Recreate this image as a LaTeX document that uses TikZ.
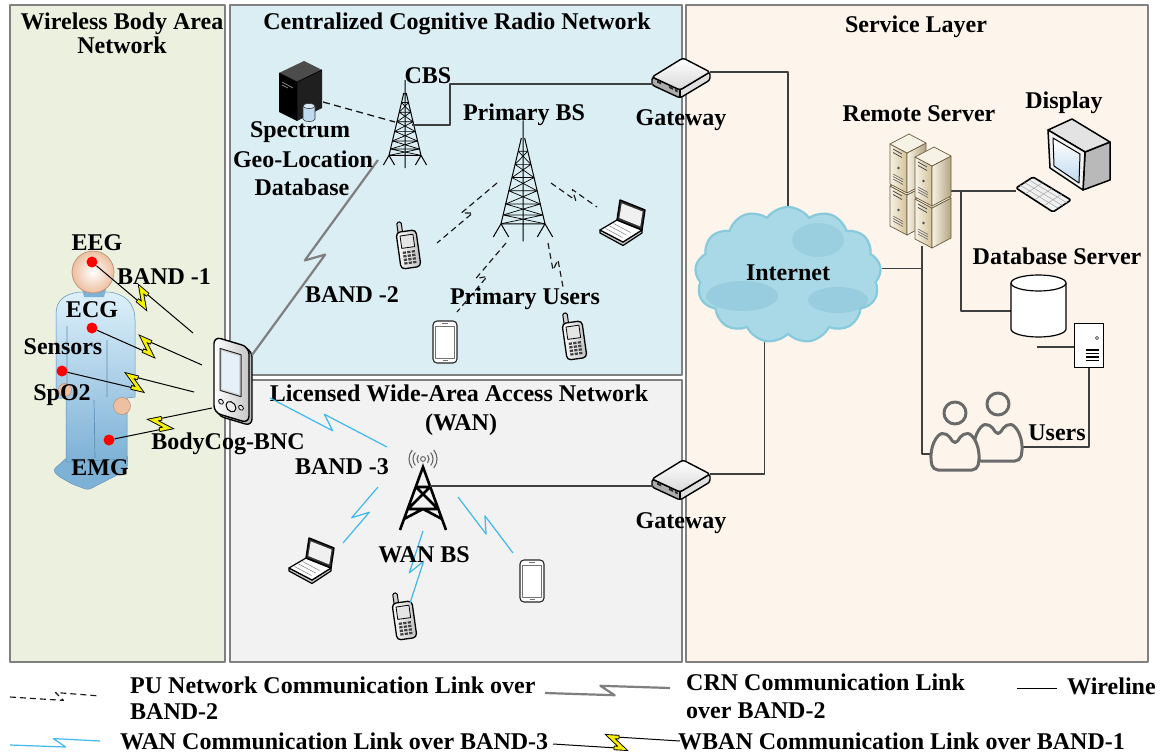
\documentclass[tikz,border=0pt]{standalone}
\usepackage{fontspec}
\setmainfont{Liberation Serif}
\usetikzlibrary{calc,shapes.symbols}

\definecolor{wbanbg}{HTML}{EBF1DE}
\definecolor{crnbg}{HTML}{DAEEF3}
\definecolor{wanbg}{HTML}{F2F2F2}
\definecolor{svcbg}{HTML}{FDF4EC}
\definecolor{panelline}{HTML}{808080}
\definecolor{wanblue}{HTML}{3DB9EE}
\definecolor{boltyellow}{HTML}{F5F000}
\definecolor{crngray}{HTML}{7F7F7F}
\definecolor{wirecol}{HTML}{3F3F3F}
\definecolor{cloudfill}{HTML}{A9D9E7}
\definecolor{cloudedge}{HTML}{86CADC}
\definecolor{cloudpatch}{HTML}{8CC6DA}
\definecolor{skin}{HTML}{EEBFA0}
\definecolor{skinline}{HTML}{B88C70}
\definecolor{suitlight}{HTML}{DDF0FA}
\definecolor{suitdark}{HTML}{7DB1D6}
\definecolor{suitline}{HTML}{5B8FB8}
\definecolor{beige}{HTML}{D3C298}
\definecolor{beigelight}{HTML}{F7F2E6}
\definecolor{beigeline}{HTML}{6B5B3E}
\definecolor{screenblue}{HTML}{BFD9EF}
\definecolor{usergray}{HTML}{6A6A6A}

% radio link with a zigzag: style, from, to, position, half step along, half step across
\newcommand{\zlink}[6]{%
  \coordinate (zm) at ($(#2)!#4!(#3)$);
  \coordinate (z1) at ($(zm)!#5!(#3)!#6!-90:(#3)$);
  \coordinate (z2) at ($(zm)!-#5!(#3)!#6!90:(#3)$);
  \draw[#1] (#2) -- (z1) -- (z2) -- (#3);
}
% body-area link: black line with a yellow bolt
\newcommand{\wbanlink}[3]{%
  \zlink{black,line width=1pt}{#1}{#2}{#3}{6pt}{6pt}
  \draw[black,line width=4.6pt,line join=miter,miter limit=3]
    ($(z1)!9pt!(#1)$) -- (z1) -- (z2) -- ($(z2)!9pt!(#2)$);
  \draw[boltyellow,line width=2.8pt,line join=miter,miter limit=3]
    ($(z1)!8.2pt!(#1)$) -- (z1) -- (z2) -- ($(z2)!8.2pt!(#2)$);
}
% user silhouette, head centre given
\newcommand{\userfig}[2]{%
  \draw[usergray,line width=3pt,fill=svcbg,rounded corners=5pt]
    (#1-22,#2+57) .. controls (#1-27,#2+35) and (#1-18,#2+21) .. (#1-8,#2+20)
    -- (#1,#2+32) -- (#1+8,#2+20)
    .. controls (#1+18,#2+21) and (#1+27,#2+35) .. (#1+22,#2+57) -- cycle;
  \draw[usergray,line width=3pt,fill=svcbg] (#1,#2) circle (11);
}

\tikzset{
  lbl/.style={font=\fontsize{24}{26}\selectfont\bfseries,inner sep=0pt,
              text height=0.72em,text depth=0.2em,yshift=-5pt},
  panel/.style={draw=panelline,line width=1.6pt},
  wire/.style={draw=wirecol,line width=1.1pt},
  sensor/.style={circle,fill=red,inner sep=0pt,minimum size=11pt},
  pulink/.style={black!90,line width=1.15pt,dash pattern=on 6pt off 4pt},
  wanlink/.style={wanblue,line width=1.2pt},
  crnlink/.style={crngray,line width=2.2pt},
  lattice/.pic={
    \draw[black,line width=1pt]
      (0,-6) -- (0,104)
      (-1.5,10) -- (-20,88) -- (-27,100)
      (1.5,10) -- (20,88) -- (27,100)
      (-20,88) -- (-13,100) (20,88) -- (13,100)
      (-20,88) -- (20,88);
    \foreach \ya/\yb in {22/34,34/46,46/58,58/70,70/80,80/88}{
      \pgfmathsetmacro\wa{1.5+(\ya-10)*18.5/78}
      \pgfmathsetmacro\wb{1.5+(\yb-10)*18.5/78}
      \draw[black,line width=0.7pt] (-\wa,\ya) -- (\wa,\ya)
        (-\wa,\ya) -- (\wb,\yb) (\wa,\ya) -- (-\wb,\yb);
    }
  },
  wantower/.pic={
    \draw[black,line width=2.6pt,line join=miter,line cap=butt]
      (-23,63) -- (0,0) -- (23,63)
      (-7,20) -- (7,20)
      (-7,20) -- (15,42) (7,20) -- (-15,42)
      (-15,42) -- (15,42)
      (-19,52) -- (0,42) -- (19,52);
    \draw[black!60,line width=1pt] (0,-8) circle (2.4);
    \foreach \r in {6,10,14}{
      \draw[black!60,line width=1.1pt] (0,-8) ++(140:\r) arc (140:220:\r);
      \draw[black!60,line width=1.1pt] (0,-8) ++(-40:\r) arc (-40:40:\r);
    }
  },
  gateway/.pic={
    \fill[gray!65] (-29,-1) -- (-1,12) -- (-1,20) -- (-29,7) -- cycle;
    \fill[gray!25] (-1,12) -- (29,-6) -- (29,2) -- (-1,20) -- cycle;
    \draw[black,line width=1.4pt,rounded corners=2.5pt]
      (-29,-1) -- (-1,12) -- (29,-6) -- (29,2) -- (-1,20) -- (-29,7) -- cycle;
    \draw[black,line width=1.2pt] (-1,12) -- (-1,20);
    \draw[black,line width=1.4pt,rounded corners=2.5pt,top color=white,bottom color=gray!30]
      (-29,-1) -- (2,-20) -- (29,-6) -- (-1,12) -- cycle;
    \fill[black!85] (-24,2.5) -- (-20,4.5) -- (-20,6.5) -- (-24,4.5) -- cycle;
    \fill[black!85] (-12,8) -- (-8,10) -- (-8,12) -- (-12,10) -- cycle;
    \fill[black!85] (-6,11) -- (-3.5,12.3) -- (-3.5,14.3) -- (-6,13) -- cycle;
  },
  cellphone/.pic={
    \draw[black,line width=1pt,fill=gray!35,rounded corners=1.5pt] (-8,-25) rectangle (-3.5,-13);
    \draw[black,line width=1.3pt,rounded corners=4pt,left color=white,right color=gray!50]
      (-10,-15) rectangle (10,22);
    \draw[black,line width=0.8pt,fill=gray!20] (-6.5,-11) rectangle (6.5,1.5);
    \foreach \i in {-1,0,1}{\foreach \j in {0,1,2,3}{
      \fill[black!75] ({\i*4.5-1.6},{5+\j*3.6}) rectangle ++(3.2,2.2);}}
  },
  smartphone/.pic={
    \draw[black!85,line width=1.1pt,rounded corners=4pt,fill=white] (-12,-21) rectangle (12,21);
    \draw[black!55,line width=0.7pt,fill=white] (-9.5,-16) rectangle (9.5,16);
    \draw[black!55,line width=0.9pt] (-3,-18.5) -- (3,-18.5) (-2.5,18.5) -- (2.5,18.5);
  },
  laptop/.pic={
    \draw[black,line width=1.2pt,fill=gray!45]
      (-24,10) -- (-1,22) -- (18,10) -- (18,13) -- (-1,25.5) -- (-24,13) -- cycle;
    \draw[black,line width=1.2pt,fill=white] (-7,0) -- (18,10) -- (-1,22) -- (-24,10) -- cycle;
    \draw[gray,line width=0.5pt] (-10.5,3.5) -- ++(17,9) (-14.5,6) -- ++(17,9) (-18.5,8.5) -- ++(17,9);
    \draw[black,line width=1.4pt,fill=black!80] (-7,0) -- (-4,-20) -- (21,-10) -- (18,10) -- cycle;
    \fill[gray!12] (-4.6,-2) -- (-2.3,-16.6) -- (18.6,-8.4) -- (16.2,6.4) -- cycle;
  },
  pda/.pic={
    \begin{scope}[yslant=-0.3]
      \draw[black,line width=1.3pt,rounded corners=7pt,fill=gray!55] (-15,-36) rectangle (20,40);
      \draw[black,line width=1.4pt,rounded corners=7pt,left color=white,right color=gray!45]
        (-18,-38) rectangle (17,38);
      \draw[black!85,line width=1pt,fill=gray!35] (-12,-28) rectangle (9,14);
      \fill[screenblue!40!white] (-10,-26) rectangle (7,12);
      \draw[black,line width=1pt,fill=gray!15] (-1,27) circle (5);
      \draw[black,line width=0.8pt,fill=gray!15] (-11,25) circle (2.4) (9,25) circle (2.4);
    \end{scope}
  },
  srvunit/.pic={
    \draw[beigeline,line width=0.7pt,left color=beigelight,right color=beige]
      (0,0) -- (17,9) -- (17,49) -- (0,40) -- cycle;
    \draw[beigeline,line width=0.7pt,left color=beigelight,right color=beige!85!black]
      (17,9) -- (36,-1) -- (36,39) -- (17,49) -- cycle;
    \draw[beigeline,line width=0.7pt,fill=beigelight] (0,0) -- (19,-10) -- (36,-1) -- (17,9) -- cycle;
    \draw[black!70,line width=0.8pt] (3,5) -- (12,10) (3,8.5) -- (12,13.5);
    \fill[black!70] (8.5,24) circle (1.3);
    \draw[black!60,line width=0.6pt] (3,30) -- (13,35.5) (3,32.5) -- (13,38) (3,35) -- (13,40.5);
  },
}

\begin{document}
\begin{tikzpicture}[x=1pt,y=-1pt,line join=round]
\useasboundingbox (0,0) rectangle (1167,754);
\fill[white] (0,0) rectangle (1167,754);

% ---------- panels ----------
\draw[panel,fill=wbanbg] (10,5) rectangle (225,662);
\draw[panel,fill=crnbg] (230,5) rectangle (682,375);
\draw[panel,fill=wanbg] (230,380) rectangle (682,662);
\draw[panel,fill=svcbg] (686,5) rectangle (1148,662);

\node[lbl] (t-wban1) at (122,22) {Wireless Body Area};
\node[lbl] (t-wban2) at (122,46) {Network};
\node[lbl] (t-crn) at (457,22) {Centralized Cognitive Radio Network};
\node[lbl] (t-svc) at (916,25) {Service Layer};
\node[lbl] (t-wan1) at (459,394) {Licensed Wide-Area Access Network};
\node[lbl] (t-wan2) at (461,423) {(WAN)};

% ---------- body area network: the patient ----------
\draw[suitline,line width=0.4pt,fill=suitdark,rounded corners=3pt]
  (53,470) -- (70,455) -- (128,455) -- (127,470) -- (88,490) -- (72,484) -- (58,476) -- cycle;
\draw[suitline,line width=0.5pt,top color=suitlight,bottom color=suitdark]
  (56,398) -- (56,314) .. controls (56,300) and (65,294) .. (79,292) -- (109,292)
  .. controls (125,294) and (135,303) .. (135,320) -- (135,397) -- (127,398)
  -- (127,459) -- (66,462) -- (66,398) -- cycle;
\draw[suitline,line width=0.7pt] (67,326) -- (67,396) (107,340) -- (107,397) (94,400) -- (95,458);
\fill[suitdark] (82,289) -- (106,289) -- (104,297) -- (84,297) -- cycle;
\draw[skinline,line width=0.5pt,fill=skin] (122,406) circle (8.5);
\draw[skinline,line width=0.5pt,fill=skin] (65,390) circle (6.5);
\shade[inner color=white,outer color=skin] (93,272) circle (21);
\draw[skinline,line width=0.6pt] (93,272) circle (21);

\node[sensor] (eeg) at (92,262) {};
\node[sensor] (ecg) at (92,328) {};
\node[sensor] (spo2) at (62,371) {};
\node[sensor] (emg) at (109,440) {};

% BodyCog-BNC handheld
\pic (bnc) at (232,380) {pda};
\coordinate (bnc-a) at (193,333);
\coordinate (bnc-b) at (202,365);
\coordinate (bnc-c) at (194,392);
\coordinate (bnc-d) at (212,408);
\coordinate (bnc-top) at (252,355);
\coordinate (bnc-wan) at (270,398);

\wbanlink{eeg}{bnc-a}{0.5}
\wbanlink{ecg}{bnc-b}{0.5}
\wbanlink{spo2}{bnc-c}{0.55}
\wbanlink{emg}{bnc-d}{0.5}

\node[lbl] (t-eeg) at (97,243) {EEG};
\node[lbl] (t-band1) at (164,277) {BAND -1};
\node[lbl] (t-ecg) at (92,310) {ECG};
\node[lbl] (t-sens) at (63,347) {Sensors};
\node[lbl] (t-spo2) at (62,393) {SpO2};
\node[lbl] (t-emg) at (100,468) {EMG};
\node[lbl] (t-bnc) at (228,442) {BodyCog-BNC};

% ---------- cognitive radio network ----------
% spectrum database server
\fill[black] (279,73) -- (297,82) -- (297,121) -- (279,112) -- cycle;
\fill[black!88] (297,82) -- (322,70) -- (322,108) -- (297,121) -- cycle;
\fill[black!70] (279,73) -- (304,61) -- (322,70) -- (297,82) -- cycle;
\draw[black,line width=0.8pt] (279,73) -- (297,82) -- (322,70) (297,82) -- (297,121);
\draw[gray!70,line width=0.6pt] (282,82) -- (293,88) (282,85) -- (288,88);
\draw[black!80,line width=0.6pt,fill=screenblue] (303,106) -- (303,119) arc (180:0:6 and 2.5) -- (315,106);
\draw[black!80,line width=0.6pt,fill=screenblue!60!white] (309,106) ellipse (6 and 2.5);
\coordinate (sgdb) at (323,102);

\pic[scale=0.8] (cbs) at (405,85) {lattice};
\coordinate (cbs-db) at (395,122);
\coordinate (cbs-w) at (412,125);
\coordinate (cbs-low) at (378,160);

\pic[scale=1.1] (pbs) at (523,127) {lattice};
\coordinate (pbs-a) at (497,183);
\coordinate (pbs-b) at (551,183);
\coordinate (pbs-c) at (506,243);
\coordinate (pbs-d) at (548,243);

\pic[rotate=8] (pu1) at (408,246) {cellphone};
\pic (pu2) at (624,220) {laptop};
\pic (pu3) at (445,342) {smartphone};
\pic[rotate=8] (pu4) at (574,337) {cellphone};
\coordinate (pu1-p) at (437,243);
\coordinate (pu2-p) at (597,207);
\coordinate (pu3-p) at (457,312);
\coordinate (pu4-p) at (563,287);

\draw[black!90,line width=1.3pt,dash pattern=on 7pt off 4.5pt] (sgdb) -- (cbs-db);
\zlink{pulink}{pbs-a}{pu1-p}{0.5}{4pt}{4pt}
\zlink{pulink}{pbs-b}{pu2-p}{0.5}{4pt}{4pt}
\zlink{pulink}{pbs-c}{pu3-p}{0.5}{4pt}{4pt}
\zlink{pulink}{pbs-d}{pu4-p}{0.5}{4pt}{4pt}

\zlink{crnlink}{bnc-top}{cbs-low}{0.5}{8pt}{7pt}

\node[lbl] (t-cbs) at (428,76) {CBS};
\node[lbl] (t-sg1) at (300,130) {Spectrum};
\node[lbl] (t-sg2) at (303,160) {Geo-Location};
\node[lbl] (t-sg3) at (302,188) {Database};
\node[lbl] (t-pbs) at (524,113) {Primary BS};
\node[lbl] (t-band2) at (352,295) {BAND -2};
\node[lbl] (t-pu) at (525,297) {Primary Users};

% ---------- wide-area network ----------
\pic (wbs) at (423,467) {wantower};
\coordinate (wbs-w) at (430,486);
\coordinate (wbs-a) at (387,447);
\coordinate (wbs-b) at (378,487);
\coordinate (wbs-c) at (423,531);
\coordinate (wbs-d) at (458,497);

\pic (wu1) at (313,558) {laptop};
\pic[rotate=8] (wu2) at (404,617) {cellphone};
\pic (wu3) at (532,581) {smartphone};
\coordinate (wu1-p) at (343,543);
\coordinate (wu2-p) at (410,603);
\coordinate (wu3-p) at (513,553);

\zlink{wanlink}{bnc-wan}{wbs-a}{0.5}{7pt}{6pt}
\zlink{wanlink}{wbs-b}{wu1-p}{0.5}{7pt}{6pt}
\zlink{wanlink}{wbs-c}{wu2-p}{0.5}{7pt}{6pt}
\zlink{wanlink}{wbs-d}{wu3-p}{0.5}{7pt}{6pt}

\node[lbl] (t-band3) at (342,467) {BAND -3};
\node[lbl] (t-wbs) at (424,555) {WAN BS};

% ---------- gateways and service layer ----------
\pic (gw1) at (681,78) {gateway};
\pic (gw2) at (681,480) {gateway};
\coordinate (gw1-l) at (653,84);
\coordinate (gw1-r) at (710,72);
\coordinate (gw2-l) at (653,486);
\coordinate (gw2-r) at (710,474);

\draw[wire] (cbs-w) -- ++(38,0) |- (gw1-l);
\draw[wire] (wbs-w) -- (gw2-l);

\node[cloud,cloud puffs=13,cloud puff arc=110,aspect=1.35,minimum width=186pt,minimum height=136pt,
      draw=cloudedge,line width=2.2pt,fill=cloudfill,inner sep=0pt] (internet) at (788,275) {};
\fill[cloudpatch,opacity=0.6] (742,296) ellipse (36 and 15);
\fill[cloudpatch,opacity=0.6] (838,300) ellipse (30 and 13);
\fill[cloudpatch,opacity=0.5] (818,240) ellipse (26 and 17);

\coordinate (srv-b) at (922,246);
\coordinate (srv-r) at (951,191);
\coordinate (srv-j) at (961,191);
\coordinate (kbd-l) at (1016,191);
\coordinate (db-l) at (1011,311);
\coordinate (box-free) at (1037,347);
\coordinate (box-l) at (1074,347);
\coordinate (box-b) at (1089,367);
\coordinate (users-l) at (933,454);
\coordinate (users-r) at (1023,447);

\draw[wire] (gw1-r) -| (internet.north);
\draw[wire] (gw2-r) -| (internet.251);
\draw[wire] (internet.4) -- (internet.4 -| srv-b);
\draw[wire] (srv-b) |- (users-l);
\draw[wire] (srv-r) -- (kbd-l);
\draw[wire] (srv-j) |- (db-l);
\draw[wire] (box-free) -- (box-l);
\draw[wire] (box-b) |- (users-r);

% remote server rack
\pic (rs1) at (890,186) {srvunit};
\pic (rs2) at (890,144) {srvunit};
\pic (rs3) at (915,199) {srvunit};
\pic (rs4) at (915,157) {srvunit};

% display and keyboard
\draw[black,line width=1.5pt,fill=gray!55] (1085,152) -- (1110,142) -- (1110,180) -- (1083,190) -- cycle;
\draw[black,line width=1.5pt,fill=gray!22] (1048,130) -- (1072,119) -- (1110,142) -- (1085,152) -- cycle;
\draw[black,line width=1.5pt,fill=gray!10] (1048,130) -- (1085,152) -- (1083,190) -- (1050,168) -- cycle;
\draw[black,line width=1pt,top color=white,bottom color=screenblue]
  (1053,138) -- (1080,154) -- (1079,183) -- (1054,166) -- cycle;
\draw[black,line width=1.6pt,fill=gray!12,rounded corners=1.5pt]
  (1016,188) -- (1033,177) -- (1071,200) -- (1053,212) -- cycle;
\draw[gray!70,line width=0.5pt] (1025.5,193.75) -- ++(17,-11) (1035,199.5) -- ++(17,-11) (1044.5,205.25) -- ++(17,-11)
  (1020.25,185.25) -- ++(38,23) (1024.5,182.5) -- ++(38,23) (1028.75,179.75) -- ++(38,23);

% database server
\draw[black,line width=1.2pt,fill=white] (1011,283) -- (1011,329) arc (180:0:27.5 and 8) -- (1066,283);
\draw[black,line width=1.2pt,fill=white] (1038.5,283) ellipse (27.5 and 8);

% small terminal
\draw[black,line width=1pt,fill=white] (1074,323) rectangle (1103,367);
\draw[black!70,line width=0.7pt] (1097,338) circle (1.6);
\draw[black,line width=1.2pt] (1086,350) -- (1099,350) (1086,353.5) -- (1099,353.5)
  (1086,357) -- (1099,357) (1086,360.5) -- (1099,360.5);

% users
\userfig{998}{404}
\userfig{955}{413}

\node[lbl] (t-gw1) at (681,118) {Gateway};
\node[lbl] (t-gw2) at (681,521) {Gateway};
\node[lbl] (t-inet) at (788,273) {Internet};
\node[lbl] (t-rs) at (919,114) {Remote Server};
\node[lbl] (t-disp) at (1064,101) {Display};
\node[lbl] (t-dbs) at (1057,257) {Database Server};
\node[lbl] (t-users) at (1057,433) {Users};

% ---------- legend ----------
\coordinate (lg-pu-a) at (10,697);
\coordinate (lg-pu-b) at (100,696);
\coordinate (lg-wan-a) at (10,745);
\coordinate (lg-wan-b) at (100,741);
\coordinate (lg-crn-a) at (545,693);
\coordinate (lg-crn-b) at (670,688);
\coordinate (lg-wb-a) at (553,744);
\coordinate (lg-wb-b) at (680,741);
\coordinate (lg-wire-a) at (1017,688);
\coordinate (lg-wire-b) at (1057,688);

\zlink{pulink}{lg-pu-a}{lg-pu-b}{0.55}{4pt}{4pt}
\zlink{wanlink}{lg-wan-a}{lg-wan-b}{0.55}{6pt}{4.5pt}
\zlink{crnlink}{lg-crn-a}{lg-crn-b}{0.5}{7pt}{5pt}
\wbanlink{lg-wb-a}{lg-wb-b}{0.5}
\draw[black,line width=1pt] (lg-wire-a) -- (lg-wire-b);

\node[lbl,anchor=west] (l-pu1) at (130,686) {PU Network Communication Link over};
\node[lbl,anchor=west] (l-pu2) at (130,712) {BAND-2};
\node[lbl,anchor=west] (l-wan) at (120,742) {WAN Communication Link over BAND-3};
\node[lbl,anchor=west] (l-crn1) at (686,683) {CRN Communication Link};
\node[lbl,anchor=west] (l-crn2) at (686,711) {over BAND-2};
\node[lbl,anchor=west] (l-wb) at (678,742) {WBAN Communication Link over BAND-1};
\node[lbl,anchor=west] (l-wire) at (1067,687) {Wireline};
\end{tikzpicture}
\end{document}
